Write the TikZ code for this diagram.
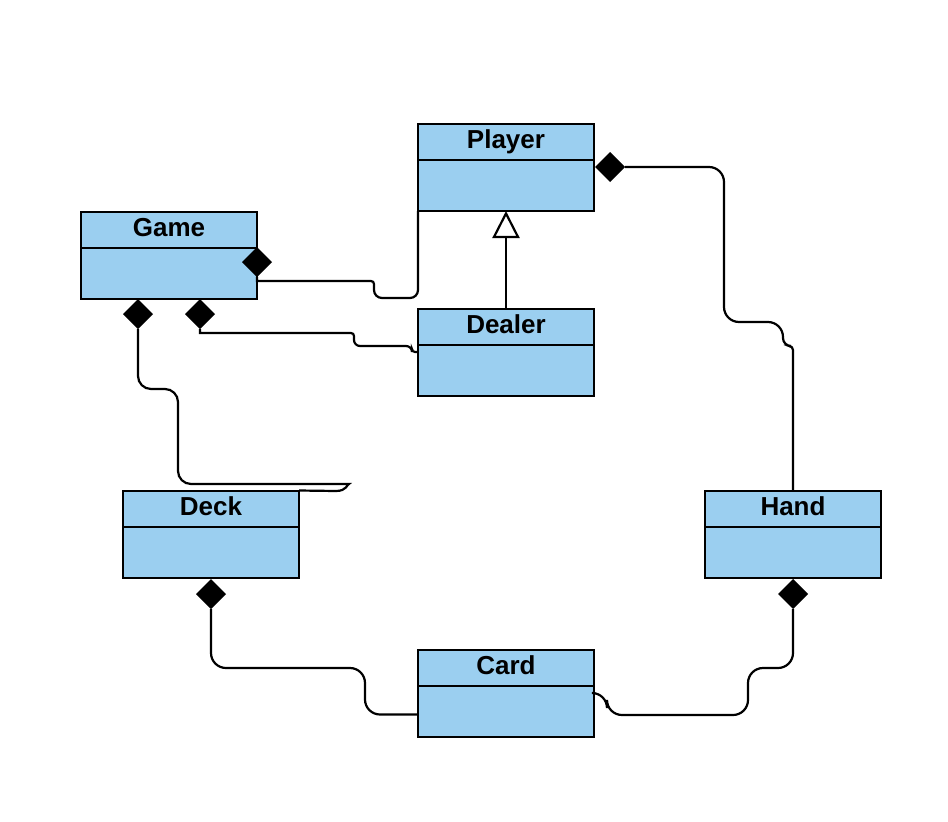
\documentclass[tikz,border=0pt]{standalone}
\usepackage{fontspec}
\setmainfont{Liberation Sans}
\usetikzlibrary{shapes.geometric,arrows.meta,calc}
\definecolor{clsblue}{HTML}{9BCFF0}
\newcommand\umlclass[4]{%
  \node[cls] (#1) at (#2,#3) {};
  \draw[line width=2pt] ($(#1.north west)+(0,36)$) -- ($(#1.north east)+(0,36)$);
  \node[ttl] (#1-t) at ($(#1.north)+(0,24.5)$) {#4};
}
\begin{document}
\begin{tikzpicture}[x=1pt,y=-1pt,
  cls/.style={draw=black, line width=2pt, fill=clsblue, minimum width=176pt, minimum height=87pt, inner sep=0pt, outer sep=0pt},
  ttl/.style={font=\fontsize{26}{30}\selectfont\bfseries, anchor=base, inner sep=0pt},
  comp/.style={diamond, fill=black, inner sep=0pt, outer sep=0pt, minimum width=30pt, minimum height=30pt},
  conn/.style={line width=2.2pt, draw=black}]
\fill[white] (0,0) rectangle (948,822);
\useasboundingbox (0,0) rectangle (948,822);

\umlclass{player}{506}{167.5}{Player}
\umlclass{game}{169}{255.5}{Game}
\umlclass{dealer}{506}{352}{Dealer}
\umlclass{deck}{211}{534}{Deck}
\umlclass{hand}{793}{534}{Hand}
\umlclass{card}{506}{693}{Card}

\node[comp] (gp) at (257,262) {};
\node[comp] (gdl) at (200,314) {};
\node[comp] (gdk) at (138,314) {};
\node[comp] (ph) at (610,167) {};
\node[comp] (hc) at (793,594) {};
\node[comp] (dc) at (211,594) {};

\coordinate (cardin) at ($(card.south west)+(0,-22)$);

% Game -- Player
\draw[conn] (gp.south) -- (257,281) [rounded corners=3pt] -- (374,281) [rounded corners=8pt] -- (374,298) -- (418,298) -- (player.south west);
% Game -- Dealer
\draw[conn] (gdl.south) -- (200,333) [rounded corners=3pt] -- (354,333) [rounded corners=6pt] -- (354,346) -- (412,346) [rounded corners=3pt] -- (412,352) -- (dealer.west);
% Game -- Deck
\draw[conn] (gdk.south) [rounded corners=13pt] -- (138,389) -- (178,389) -- (178,484) -- (336,484) [sharp corners] .. controls (347,484) and (347,491) .. (336,491) -- (deck.north east);
% Player -- Hand
\draw[conn] (ph.east) [rounded corners=15pt] -- (724,167) -- (724,322) -- (783,322) [rounded corners=8pt] -- (783,346) [rounded corners=4pt] -- (793,346) -- (hand.north);
% Deck -- Card
\draw[conn] (dc.south) [rounded corners=15pt] -- (211,668) -- (365,668) |- (cardin);
% Hand -- Card
\draw[conn] (hc.south) [rounded corners=15pt] -- (793,668) -- (748,668) -- (748,715) -- (607,715) -- (607,693) [rounded corners=5pt] -- (card.east);
% Dealer -> Player (generalization)
\draw[conn, -{Triangle[length=27pt, width=27pt, fill=white]}] (dealer.north) -- (player.south);
\end{tikzpicture}
\end{document}
